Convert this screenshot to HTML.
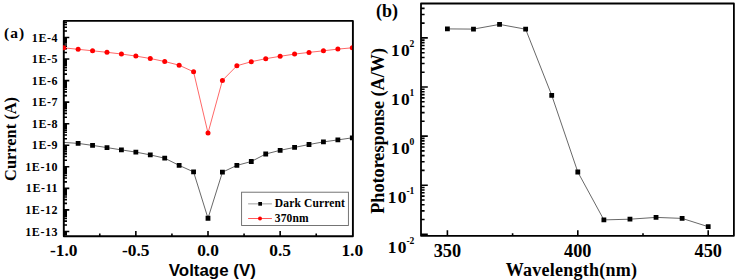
<!DOCTYPE html><html><head><meta charset="utf-8"><style>html,body{margin:0;padding:0;background:#fff;width:735px;height:280px;overflow:hidden}svg{display:block}.s{font-family:"Liberation Serif",serif;font-weight:bold;fill:#000}.a{font-family:"Liberation Sans",sans-serif;font-weight:bold;fill:#000}</style></head><body>
<svg width="735" height="280" viewBox="0 0 735 280">
<defs><clipPath id="cl"><rect x="63.1" y="20" width="289.1" height="217"/></clipPath><clipPath id="cr"><rect x="420" y="2.7" width="315" height="234"/></clipPath></defs>
<path d="M63.8 234.79H67.0M63.8 233.54H67.0M63.8 232.44H67.0M63.8 231.45H69.3M63.8 224.96H67.0M63.8 221.17H67.0M63.8 218.48H67.0M63.8 216.39H67.0M63.8 214.68H67.0M63.8 213.24H67.0M63.8 211.99H67.0M63.8 210.89H67.0M63.8 209.90H69.3M63.8 203.41H67.0M63.8 199.62H67.0M63.8 196.93H67.0M63.8 194.84H67.0M63.8 193.13H67.0M63.8 191.69H67.0M63.8 190.44H67.0M63.8 189.34H67.0M63.8 188.35H69.3M63.8 181.86H67.0M63.8 178.07H67.0M63.8 175.38H67.0M63.8 173.29H67.0M63.8 171.58H67.0M63.8 170.14H67.0M63.8 168.89H67.0M63.8 167.79H67.0M63.8 166.80H69.3M63.8 160.31H67.0M63.8 156.52H67.0M63.8 153.83H67.0M63.8 151.74H67.0M63.8 150.03H67.0M63.8 148.59H67.0M63.8 147.34H67.0M63.8 146.24H67.0M63.8 145.25H69.3M63.8 138.76H67.0M63.8 134.97H67.0M63.8 132.28H67.0M63.8 130.19H67.0M63.8 128.48H67.0M63.8 127.04H67.0M63.8 125.79H67.0M63.8 124.69H67.0M63.8 123.70H69.3M63.8 117.21H67.0M63.8 113.42H67.0M63.8 110.73H67.0M63.8 108.64H67.0M63.8 106.93H67.0M63.8 105.49H67.0M63.8 104.24H67.0M63.8 103.14H67.0M63.8 102.15H69.3M63.8 95.66H67.0M63.8 91.87H67.0M63.8 89.18H67.0M63.8 87.09H67.0M63.8 85.38H67.0M63.8 83.94H67.0M63.8 82.69H67.0M63.8 81.59H67.0M63.8 80.60H69.3M63.8 74.11H67.0M63.8 70.32H67.0M63.8 67.63H67.0M63.8 65.54H67.0M63.8 63.83H67.0M63.8 62.39H67.0M63.8 61.14H67.0M63.8 60.04H67.0M63.8 59.05H69.3M63.8 52.56H67.0M63.8 48.77H67.0M63.8 46.08H67.0M63.8 43.99H67.0M63.8 42.28H67.0M63.8 40.84H67.0M63.8 39.59H67.0M63.8 38.49H67.0M63.8 37.50H69.3M63.8 31.01H67.0M63.8 27.22H67.0M63.8 24.53H67.0M63.8 22.44H67.0M99.77 236.3V233.4M135.85 236.3V231.0M171.93 236.3V233.4M208.00 236.3V231.0M244.07 236.3V233.4M280.15 236.3V231.0M316.23 236.3V233.4" stroke="#000" stroke-width="1.6" fill="none"/>
<rect x="63.8" y="20.9" width="289.1" height="215.4" fill="none" stroke="#000" stroke-width="1.9" stroke-linejoin="round"/>
<g clip-path="url(#cl)">
<polyline points="63.70,142.40 78.13,143.40 92.56,145.40 106.99,147.60 121.42,149.90 135.85,152.10 150.28,154.90 164.71,158.20 179.14,165.40 193.57,171.90 208.00,218.25 222.43,172.20 236.86,165.40 251.29,161.50 265.72,154.00 280.15,150.30 294.58,147.40 309.01,144.50 323.44,141.90 337.87,139.90 352.30,137.80" stroke="#000" stroke-width="0.6" fill="none"/>
<polyline points="63.70,47.80 78.13,49.30 92.56,50.80 106.99,52.30 121.42,54.00 135.85,56.10 150.28,58.50 164.71,61.50 179.14,65.20 193.57,71.80 208.00,133.00 222.43,80.40 236.86,65.80 251.29,61.70 265.72,58.70 280.15,56.30 294.58,54.10 309.01,52.40 323.44,50.80 337.87,49.10 352.30,47.80" stroke="#f00" stroke-width="0.6" fill="none"/>
<path d="M75.73 141.00h4.8v4.8h-4.8zM90.16 143.00h4.8v4.8h-4.8zM104.59 145.20h4.8v4.8h-4.8zM119.02 147.50h4.8v4.8h-4.8zM133.45 149.70h4.8v4.8h-4.8zM147.88 152.50h4.8v4.8h-4.8zM162.31 155.80h4.8v4.8h-4.8zM176.74 163.00h4.8v4.8h-4.8zM191.17 169.50h4.8v4.8h-4.8zM205.60 215.85h4.8v4.8h-4.8zM220.03 169.80h4.8v4.8h-4.8zM234.46 163.00h4.8v4.8h-4.8zM248.89 159.10h4.8v4.8h-4.8zM263.32 151.60h4.8v4.8h-4.8zM277.75 147.90h4.8v4.8h-4.8zM292.18 145.00h4.8v4.8h-4.8zM306.61 142.10h4.8v4.8h-4.8zM321.04 139.50h4.8v4.8h-4.8zM335.47 137.50h4.8v4.8h-4.8zM349.90 135.40h4.8v4.8h-4.8z" fill="#000"/>
<circle cx="63.70" cy="47.80" r="2.5" fill="#f00"/><circle cx="78.13" cy="49.30" r="2.5" fill="#f00"/><circle cx="92.56" cy="50.80" r="2.5" fill="#f00"/><circle cx="106.99" cy="52.30" r="2.5" fill="#f00"/><circle cx="121.42" cy="54.00" r="2.5" fill="#f00"/><circle cx="135.85" cy="56.10" r="2.5" fill="#f00"/><circle cx="150.28" cy="58.50" r="2.5" fill="#f00"/><circle cx="164.71" cy="61.50" r="2.5" fill="#f00"/><circle cx="179.14" cy="65.20" r="2.5" fill="#f00"/><circle cx="193.57" cy="71.80" r="2.5" fill="#f00"/><circle cx="208.00" cy="133.00" r="2.5" fill="#f00"/><circle cx="222.43" cy="80.40" r="2.5" fill="#f00"/><circle cx="236.86" cy="65.80" r="2.5" fill="#f00"/><circle cx="251.29" cy="61.70" r="2.5" fill="#f00"/><circle cx="265.72" cy="58.70" r="2.5" fill="#f00"/><circle cx="280.15" cy="56.30" r="2.5" fill="#f00"/><circle cx="294.58" cy="54.10" r="2.5" fill="#f00"/><circle cx="309.01" cy="52.40" r="2.5" fill="#f00"/><circle cx="323.44" cy="50.80" r="2.5" fill="#f00"/><circle cx="337.87" cy="49.10" r="2.5" fill="#f00"/><circle cx="352.30" cy="47.80" r="2.5" fill="#f00"/>
</g>
<text class="s" x="58.2" y="235.6" font-size="12" letter-spacing="0.6" text-anchor="end">1E-13</text>
<text class="s" x="58.2" y="214.0" font-size="12" letter-spacing="0.6" text-anchor="end">1E-12</text>
<text class="s" x="58.2" y="192.4" font-size="12" letter-spacing="0.6" text-anchor="end">1E-11</text>
<text class="s" x="58.2" y="170.9" font-size="12" letter-spacing="0.6" text-anchor="end">1E-10</text>
<text class="s" x="58.2" y="149.3" font-size="12" letter-spacing="0.6" text-anchor="end">1E-9</text>
<text class="s" x="58.2" y="127.8" font-size="12" letter-spacing="0.6" text-anchor="end">1E-8</text>
<text class="s" x="58.2" y="106.2" font-size="12" letter-spacing="0.6" text-anchor="end">1E-7</text>
<text class="s" x="58.2" y="84.7" font-size="12" letter-spacing="0.6" text-anchor="end">1E-6</text>
<text class="s" x="58.2" y="63.1" font-size="12" letter-spacing="0.6" text-anchor="end">1E-5</text>
<text class="s" x="58.2" y="41.6" font-size="12" letter-spacing="0.6" text-anchor="end">1E-4</text>
<text class="s" x="63.7" y="255.8" font-size="17.4" text-anchor="middle">-1.0</text>
<text class="s" x="135.8" y="255.8" font-size="17.4" text-anchor="middle">-0.5</text>
<text class="s" x="208.0" y="255.8" font-size="17.4" text-anchor="middle">0.0</text>
<text class="s" x="280.1" y="255.8" font-size="17.4" text-anchor="middle">0.5</text>
<text class="s" x="352.3" y="255.8" font-size="17.4" text-anchor="middle">1.0</text>
<text class="a" x="212.3" y="275.8" font-size="16.9" text-anchor="middle">Voltage (V)</text>
<text class="s" transform="translate(16.4,139) rotate(-90)" font-size="16.4" text-anchor="middle">Current (A)</text>
<text class="s" x="3.9" y="38.2" font-size="15.5" letter-spacing="1.1">(a)</text>
<rect x="241.6" y="192.2" width="106.8" height="33.3" fill="#fff" stroke="#666" stroke-width="0.9"/>
<path d="M248.1 203.8H271.9" stroke="#bbb" stroke-width="1.4"/>
<rect x="258.3" y="202" width="3.7" height="3.7" fill="#000"/>
<path d="M248.1 218.5H271.9" stroke="#f44" stroke-width="0.9"/>
<circle cx="260" cy="218.5" r="2" fill="#f00"/>
<text class="s" x="274.8" y="206.7" font-size="11.5" letter-spacing="0.15">Dark Current</text>
<text class="s" x="274.8" y="221.9" font-size="11.5" letter-spacing="0.15">370nm</text>
<path d="M421.0 234.30H427.8M421.0 219.52H424.6M421.0 210.87H424.6M421.0 204.74H424.6M421.0 199.98H424.6M421.0 196.09H424.6M421.0 192.81H424.6M421.0 189.96H424.6M421.0 187.45H424.6M421.0 185.20H427.8M421.0 170.42H424.6M421.0 161.77H424.6M421.0 155.64H424.6M421.0 150.88H424.6M421.0 146.99H424.6M421.0 143.71H424.6M421.0 140.86H424.6M421.0 138.35H424.6M421.0 136.10H427.8M421.0 121.32H424.6M421.0 112.67H424.6M421.0 106.54H424.6M421.0 101.78H424.6M421.0 97.89H424.6M421.0 94.61H424.6M421.0 91.76H424.6M421.0 89.25H424.6M421.0 87.00H427.8M421.0 72.22H424.6M421.0 63.57H424.6M421.0 57.44H424.6M421.0 52.68H424.6M421.0 48.79H424.6M421.0 45.51H424.6M421.0 42.66H424.6M421.0 40.15H424.6M421.0 37.90H427.8M421.0 23.12H424.6M421.0 14.47H424.6M421.0 8.34H424.6M447.40 235.8V230.3M512.60 235.8V233.2M577.80 235.8V230.3M643.00 235.8V233.2M708.20 235.8V230.3" stroke="#000" stroke-width="1.6" fill="none"/>
<g clip-path="url(#cr)">
<polyline points="447.40,28.90 473.48,29.10 499.56,24.40 525.64,29.20 551.72,95.30 577.80,172.00 603.88,219.90 629.96,219.20 656.04,217.40 682.12,218.40 708.20,226.70" stroke="#000" stroke-width="0.6" fill="none"/>
<path d="M445.00 26.50h4.8v4.8h-4.8zM471.08 26.70h4.8v4.8h-4.8zM497.16 22.00h4.8v4.8h-4.8zM523.24 26.80h4.8v4.8h-4.8zM549.32 92.90h4.8v4.8h-4.8zM575.40 169.60h4.8v4.8h-4.8zM601.48 217.50h4.8v4.8h-4.8zM627.56 216.80h4.8v4.8h-4.8zM653.64 215.00h4.8v4.8h-4.8zM679.72 216.00h4.8v4.8h-4.8zM705.80 224.30h4.8v4.8h-4.8z" fill="#000"/>
</g>
<rect x="421.0" y="3.5" width="312.9" height="232.3" fill="none" stroke="#000" stroke-width="1.8" stroke-linejoin="round"/>
<text class="s" x="414.4" y="56.0" font-size="17.4" text-anchor="end"><tspan letter-spacing="1.3">1</tspan>0<tspan font-size="9.6" dy="-9.5">2</tspan></text>
<text class="s" x="414.4" y="105.1" font-size="17.4" text-anchor="end"><tspan letter-spacing="1.3">1</tspan>0<tspan font-size="9.6" dy="-9.5">1</tspan></text>
<text class="s" x="414.4" y="154.3" font-size="17.4" text-anchor="end"><tspan letter-spacing="1.3">1</tspan>0<tspan font-size="9.6" dy="-9.5">0</tspan></text>
<text class="s" x="414.4" y="203.2" font-size="17.4" text-anchor="end"><tspan letter-spacing="1.3">1</tspan>0<tspan font-size="9.6" dy="-9.5">-1</tspan></text>
<text class="s" x="414.4" y="253.3" font-size="17.4" text-anchor="end"><tspan letter-spacing="1.3">1</tspan>0<tspan font-size="9.6" dy="-9.5">-2</tspan></text>
<text class="s" x="447.4" y="257.3" font-size="18.3" text-anchor="middle">350</text>
<text class="s" x="577.8" y="257.3" font-size="18.3" text-anchor="middle">400</text>
<text class="s" x="708.2" y="257.3" font-size="18.3" text-anchor="middle">450</text>
<text class="s" x="571.4" y="275.5" font-size="18" letter-spacing="0.25" text-anchor="middle">Wavelength(nm)</text>
<text class="s" transform="translate(384.0,130.9) rotate(-90)" font-size="18.2" text-anchor="middle">Photoresponse (A/W)</text>
<text class="s" x="376" y="17.2" font-size="18">(b)</text>
</svg></body></html>
